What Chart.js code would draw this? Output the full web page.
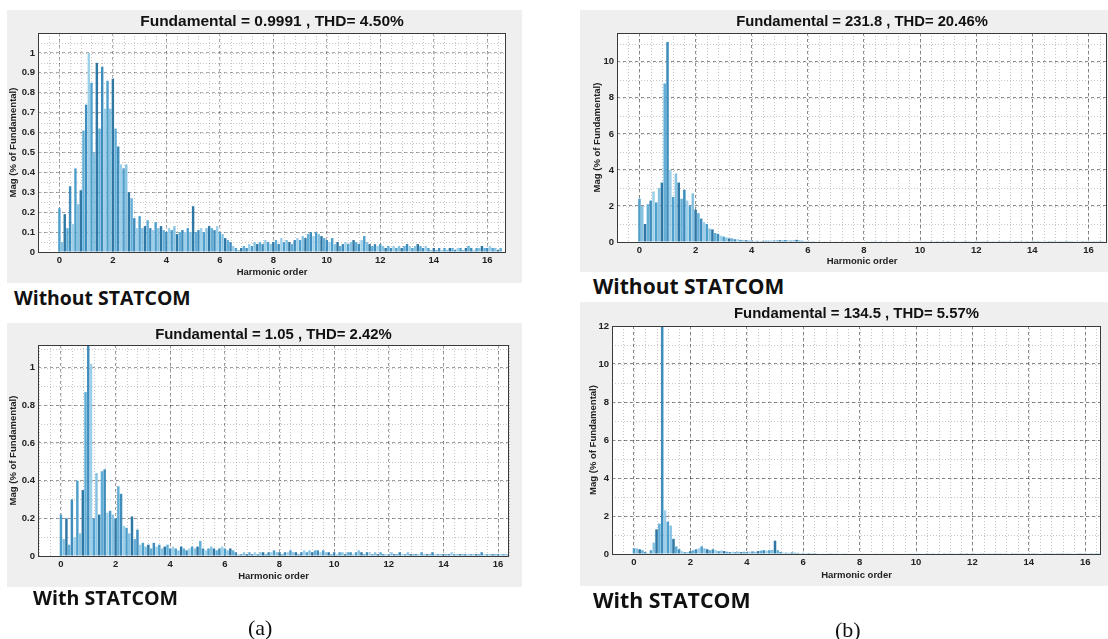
<!DOCTYPE html>
<html>
<head>
<meta charset="utf-8">
<script src="https://cdn.jsdelivr.net/npm/chart.js@4.4.0/dist/chart.umd.min.js"></script>
<style>
  body { margin: 0; background: #fff; width: 1108px; height: 639px; position: relative; overflow: hidden; }
  .panel { position: absolute; background: #efefef; }
  .panel canvas { display: block; }
  .caption { position: absolute; font-family: "Open Sans", sans-serif; font-weight: 700; color: #111; line-height: 1; white-space: nowrap; }
  .fig { position: absolute; font-family: "Liberation Serif", "Times New Roman", serif; font-size: 22px; line-height: 1; color: #111; }
</style>
</head>
<body>

<div class="panel" style="left:7px;top:10px;"><canvas id="a1" width="515" height="273"></canvas></div>
<div class="panel" style="left:580px;top:10px;"><canvas id="b1" width="528" height="262"></canvas></div>
<div class="panel" style="left:7px;top:323px;"><canvas id="a2" width="515" height="264"></canvas></div>
<div class="panel" style="left:580px;top:302px;"><canvas id="b2" width="528" height="284"></canvas></div>

<div class="caption" style="left:14px;top:288px;font-size:19.4px;">Without STATCOM</div>
<div class="caption" style="left:593px;top:276px;font-size:21px;">Without STATCOM</div>
<div class="caption" style="left:33px;top:588px;font-size:19.6px;">With STATCOM</div>
<div class="caption" style="left:593px;top:589px;font-size:21.3px;">With STATCOM</div>
<div class="fig" style="left:248px;top:617px;">(a)</div>
<div class="fig" style="left:835px;top:619px;">(b)</div>

<script>
// harmonic spectra, one value per 0.1 harmonic order from 0 to 16.5
const binWidth = 0.1;
const xTicks = [0, 2, 4, 6, 8, 10, 12, 14, 16];

const yTicksA1 = [0, 0.1, 0.2, 0.3, 0.4, 0.5, 0.6, 0.7, 0.8, 0.9, 1];
const yTicksA2 = [0, 0.2, 0.4, 0.6, 0.8, 1];
const yTicksB1 = [0, 2, 4, 6, 8, 10];
const yTicksB2 = [0, 2, 4, 6, 8, 10, 12];

// (a) without STATCOM
const magA1 = [
  0.22, 0.05, 0.19, 0.12, 0.33, 0.14, 0.42, 0.24, 0.31, 0.61,
  0.74, 1.00, 0.85, 0.50, 0.95, 0.62, 0.93, 0.72, 0.86, 0.72,
  0.87, 0.62, 0.53, 0.44, 0.42, 0.44, 0.30, 0.27, 0.17, 0.12,
  0.18, 0.12, 0.13, 0.16, 0.12, 0.11, 0.15, 0.12, 0.13, 0.11,
  0.10, 0.12, 0.11, 0.13, 0.09, 0.10, 0.11, 0.10, 0.12, 0.10,
  0.23, 0.10, 0.11, 0.12, 0.10, 0.12, 0.13, 0.12, 0.11, 0.13,
  0.10, 0.09, 0.07, 0.06, 0.05, 0.03, 0.02, 0.01, 0.02, 0.03,
  0.02, 0.04, 0.03, 0.05, 0.04, 0.05, 0.04, 0.06, 0.05, 0.04,
  0.05, 0.06, 0.04, 0.07, 0.05, 0.06, 0.05, 0.04, 0.06, 0.07,
  0.06, 0.08, 0.07, 0.09, 0.10, 0.08, 0.10, 0.09, 0.08, 0.07,
  0.06, 0.05, 0.07, 0.04, 0.05, 0.03, 0.04, 0.05, 0.04, 0.05,
  0.06, 0.05, 0.04, 0.06, 0.08, 0.05, 0.04, 0.03, 0.04, 0.03,
  0.04, 0.03, 0.02, 0.03, 0.02, 0.03, 0.02, 0.03, 0.02, 0.03,
  0.04, 0.03, 0.02, 0.03, 0.04, 0.03, 0.02, 0.03, 0.02, 0.01,
  0.02, 0.01, 0.02, 0.01, 0.02, 0.01, 0.02, 0.02, 0.01, 0.02,
  0.02, 0.01, 0.02, 0.03, 0.02, 0.01, 0.02, 0.02, 0.03, 0.02,
  0.02, 0.03, 0.02, 0.02, 0.01, 0.02
];

// (a) with STATCOM
const magA2 = [
  0.22, 0.09, 0.20, 0.06, 0.30, 0.10, 0.40, 0.12, 0.35, 0.87,
  1.12, 1.02, 0.20, 0.44, 0.22, 0.45, 0.46, 0.23, 0.24, 0.22,
  0.20, 0.37, 0.33, 0.16, 0.15, 0.12, 0.21, 0.09, 0.14, 0.06,
  0.07, 0.05, 0.06, 0.04, 0.07, 0.05, 0.06, 0.04, 0.05, 0.06,
  0.04, 0.05, 0.04, 0.03, 0.05, 0.04, 0.03, 0.04, 0.05, 0.04,
  0.05, 0.08, 0.04, 0.03, 0.04, 0.05, 0.04, 0.03, 0.04, 0.05,
  0.04, 0.03, 0.04, 0.03, 0.02, 0.01, 0.01, 0.02, 0.01, 0.02,
  0.01, 0.02, 0.01, 0.02, 0.02, 0.01, 0.02, 0.02, 0.03, 0.02,
  0.02, 0.01, 0.02, 0.02, 0.03, 0.02, 0.02, 0.01, 0.02, 0.03,
  0.02, 0.03, 0.02, 0.03, 0.03, 0.02, 0.03, 0.02, 0.02, 0.01,
  0.02, 0.01, 0.02, 0.02, 0.01, 0.02, 0.02, 0.01, 0.02, 0.03,
  0.02, 0.01, 0.02, 0.02, 0.01, 0.02, 0.01, 0.02, 0.01, 0.01,
  0.01, 0.02, 0.01, 0.01, 0.02, 0.01, 0.01, 0.02, 0.01, 0.01,
  0.01, 0.01, 0.02, 0.01, 0.01, 0.01, 0.02, 0.01, 0.01, 0.01,
  0.01, 0.01, 0.01, 0.02, 0.01, 0.01, 0.01, 0.01, 0.01, 0.01,
  0.01, 0.01, 0.01, 0.01, 0.02, 0.01, 0.01, 0.01, 0.01, 0.01,
  0.01, 0.01, 0.01, 0.01, 0.01, 0.01
];

// (b) without STATCOM
const magB1 = [
  2.4, 2.0, 1.0, 2.1, 2.3, 2.8, 2.2, 3.0, 3.3, 8.8,
  11.1, 4.0, 2.5, 3.8, 3.3, 2.4, 2.9, 2.3, 2.0, 2.7,
  1.8, 1.6, 1.3, 1.1, 1.0, 0.75, 0.7, 0.5, 0.45, 0.35,
  0.30, 0.25, 0.20, 0.20, 0.15, 0.15, 0.12, 0.10, 0.10, 0.08,
  0.08, 0.06, 0.07, 0.05, 0.06, 0.08, 0.07, 0.09, 0.08, 0.10,
  0.10, 0.09, 0.11, 0.10, 0.08, 0.10, 0.12, 0.09, 0.07, 0.06,
  0.05, 0.04, 0.04, 0.03, 0.04, 0.03, 0.02, 0.03, 0.02, 0.03,
  0.02, 0.03, 0.02, 0.03, 0.02, 0.02, 0.03, 0.02, 0.02, 0.03,
  0.03, 0.04, 0.03, 0.05, 0.04, 0.03, 0.04, 0.03, 0.02, 0.03,
  0.02, 0.03, 0.02, 0.02, 0.03, 0.02, 0.02, 0.03, 0.02, 0.02,
  0.02, 0.01, 0.02, 0.02, 0.01, 0.02, 0.01, 0.02, 0.01, 0.01,
  0.01, 0.02, 0.01, 0.01, 0.02, 0.01, 0.01, 0.01, 0.02, 0.01,
  0.01, 0.01, 0.02, 0.01, 0.01, 0.01, 0.01, 0.02, 0.01, 0.01,
  0.01, 0.01, 0.01, 0.02, 0.01, 0.01, 0.01, 0.01, 0.01, 0.01,
  0.01, 0.01, 0.01, 0.01, 0.02, 0.01, 0.01, 0.01, 0.01, 0.01,
  0.01, 0.01, 0.01, 0.01, 0.01, 0.01, 0.02, 0.01, 0.01, 0.01,
  0.01, 0.01, 0.01, 0.01, 0.01, 0.01
];

// (b) with STATCOM
const magB2 = [
  0.30, 0.30, 0.25, 0.20, 0.10, 0.05, 0.20, 0.60, 1.30, 1.60,
  12.0, 2.30, 1.70, 1.50, 0.80, 0.40, 0.25, 0.15, 0.10, 0.10,
  0.15, 0.20, 0.25, 0.30, 0.40, 0.30, 0.25, 0.20, 0.25, 0.20,
  0.15, 0.18, 0.15, 0.12, 0.10, 0.12, 0.10, 0.12, 0.10, 0.12,
  0.10, 0.12, 0.14, 0.12, 0.15, 0.18, 0.20, 0.18, 0.20, 0.22,
  0.70, 0.20, 0.10, 0.08, 0.07, 0.06, 0.08, 0.07, 0.06, 0.05,
  0.06, 0.05, 0.05, 0.04, 0.05, 0.04, 0.03, 0.04, 0.03, 0.04,
  0.04, 0.03, 0.04, 0.03, 0.03, 0.04, 0.03, 0.03, 0.02, 0.03,
  0.03, 0.02, 0.03, 0.02, 0.03, 0.02, 0.02, 0.03, 0.02, 0.02,
  0.02, 0.03, 0.02, 0.02, 0.02, 0.03, 0.02, 0.02, 0.02, 0.02,
  0.02, 0.01, 0.02, 0.02, 0.01, 0.02, 0.01, 0.02, 0.01, 0.02,
  0.01, 0.02, 0.01, 0.01, 0.02, 0.01, 0.01, 0.02, 0.01, 0.01,
  0.01, 0.01, 0.02, 0.01, 0.01, 0.01, 0.01, 0.02, 0.01, 0.01,
  0.01, 0.01, 0.01, 0.02, 0.01, 0.01, 0.01, 0.01, 0.01, 0.01,
  0.01, 0.01, 0.01, 0.01, 0.02, 0.01, 0.01, 0.01, 0.01, 0.01,
  0.01, 0.01, 0.01, 0.01, 0.01, 0.01, 0.02, 0.01, 0.01, 0.01,
  0.01, 0.01, 0.01, 0.01, 0.01, 0.01
];

const barShades = ['#4f9fcc', '#86c2e2', '#2f78a6', '#62aed6', '#3f8dbd', '#9ccfe9'];

// white plot box, minor dotted grid and the dark frame around the axes
const axesBox = {
  id: 'axesBox',
  beforeDraw(chart) {
    const a = chart.chartArea, ctx = chart.ctx;
    ctx.save();
    ctx.fillStyle = '#ffffff';
    ctx.fillRect(a.left, a.top, a.right - a.left, a.bottom - a.top);
    ctx.restore();
  },
  beforeDatasetsDraw(chart, args, opts) {
    const a = chart.chartArea, ctx = chart.ctx;
    const xs = chart.scales.x, ys = chart.scales.y;
    ctx.save();
    ctx.strokeStyle = 'rgba(0,0,0,0.22)';
    ctx.lineWidth = 1;
    ctx.setLineDash([1, 2]);
    ctx.beginPath();
    const x0 = Math.ceil(xs.min / opts.xStep) * opts.xStep;
    for (let v = x0; v <= xs.max + 1e-9; v += opts.xStep) {
      const px = Math.round(xs.getPixelForValue(v)) + 0.5;
      ctx.moveTo(px, a.top);
      ctx.lineTo(px, a.bottom);
    }
    for (let v = opts.yStep; v <= ys.max + 1e-9; v += opts.yStep) {
      const py = Math.round(ys.getPixelForValue(v)) + 0.5;
      ctx.moveTo(a.left, py);
      ctx.lineTo(a.right, py);
    }
    ctx.stroke();
    ctx.restore();
  },
  afterDatasetsDraw(chart) {
    const a = chart.chartArea, ctx = chart.ctx;
    ctx.save();
    ctx.strokeStyle = '#3a3a3a';
    ctx.lineWidth = 1;
    ctx.strokeRect(Math.round(a.left) + 0.5, Math.round(a.top) + 0.5,
      Math.round(a.right - a.left) - 1, Math.round(a.bottom - a.top));
    ctx.restore();
  }
};

function spectrumChart(id, title, mag, c) {
  const points = mag.map((m, i) => ({ x: +(i * binWidth).toFixed(1), y: m }));
  const tickFont = { family: 'Liberation Sans, Arial, sans-serif', size: 9.5, weight: 'bold' };
  return new Chart(document.getElementById(id), {
    type: 'bar',
    data: {
      datasets: [{
        data: points,
        backgroundColor: ctx => barShades[ctx.dataIndex % barShades.length],
        borderWidth: 0,
        barPercentage: 0.9,
        categoryPercentage: 1,
        grouped: false
      }]
    },
    options: {
      responsive: false,
      devicePixelRatio: 1,
      animation: false,
      layout: { padding: { top: 0, left: 0, bottom: 0, right: c.right } },
      plugins: {
        legend: { display: false },
        tooltip: { enabled: false },
        title: {
          display: true,
          text: title,
          fullSize: false,
          color: '#111',
          font: { family: 'Liberation Sans, Arial, sans-serif', size: c.titleSize, weight: 'bold', lineHeight: '16px' },
          padding: { top: c.titleTop, bottom: c.titleBottom }
        },
        axesBox: { xStep: 0.4, yStep: c.yMinor }
      },
      scales: {
        x: {
          type: 'linear',
          offset: false,
          min: c.xMin,
          max: c.xMax,
          afterBuildTicks: s => { s.ticks = xTicks.map(v => ({ value: v })); },
          afterFit: s => { s.height = c.xAxisH; },
          ticks: { color: '#222', font: tickFont, padding: 3, maxRotation: 0, autoSkip: false, callback: v => String(v) },
          grid: { offset: false, color: c.gridColor, drawTicks: false, lineWidth: 1 },
          border: { display: false, dash: [3, 3] },
          title: { display: true, text: 'Harmonic order', color: '#222', font: tickFont, padding: { top: 0, bottom: 5 } }
        },
        y: {
          min: 0,
          max: c.yMax,
          afterBuildTicks: s => { s.ticks = c.yTicks.map(v => ({ value: v })); },
          afterFit: s => { s.width = c.yAxisW; },
          ticks: { color: '#222', font: tickFont, padding: 3, autoSkip: false, callback: v => String(v) },
          grid: { color: c.gridColor, drawTicks: false, lineWidth: 1 },
          border: { display: false, dash: [3, 3] },
          title: { display: true, text: 'Mag (% of Fundamental)', color: '#222', font: tickFont, padding: { top: c.yTitlePad, bottom: 0 } }
        }
      }
    },
    plugins: [axesBox]
  });
}

spectrumChart('a1', 'Fundamental = 0.9991 , THD= 4.50%', magA1, {
  xMin: -0.8, xMax: 16.7, yMax: 1.1, yTicks: yTicksA1, yMinor: 0.05, titleSize: 15.5,
  gridColor: 'rgba(0,0,0,0.32)',
  yAxisW: 31, xAxisH: 31, right: 16, titleTop: 4, titleBottom: 3, yTitlePad: 1
});
spectrumChart('a2', 'Fundamental = 1.05 , THD= 2.42%', magA2, {
  xMin: -0.84, xMax: 16.4, yMax: 1.12, yTicks: yTicksA2, yMinor: 0.1, titleSize: 14.9,
  gridColor: 'rgba(0,0,0,0.38)',
  yAxisW: 31, xAxisH: 31, right: 13, titleTop: 4, titleBottom: 2, yTitlePad: 1
});
spectrumChart('b1', 'Fundamental = 231.8 , THD= 20.46%', magB1, {
  xMin: -0.8, xMax: 16.66, yMax: 11.6, yTicks: yTicksB1, yMinor: 1, titleSize: 14.8,
  gridColor: 'rgba(0,0,0,0.45)',
  yAxisW: 37, xAxisH: 30, right: 1, titleTop: 4, titleBottom: 3, yTitlePad: 12
});
spectrumChart('b2', 'Fundamental = 134.5 , THD= 5.57%', magB2, {
  xMin: -0.78, xMax: 16.56, yMax: 12, yTicks: yTicksB2, yMinor: 1, titleSize: 14.9,
  gridColor: 'rgba(0,0,0,0.45)',
  yAxisW: 32, xAxisH: 32, right: 7, titleTop: 4, titleBottom: 4, yTitlePad: 8
});
</script>
</body>
</html>
